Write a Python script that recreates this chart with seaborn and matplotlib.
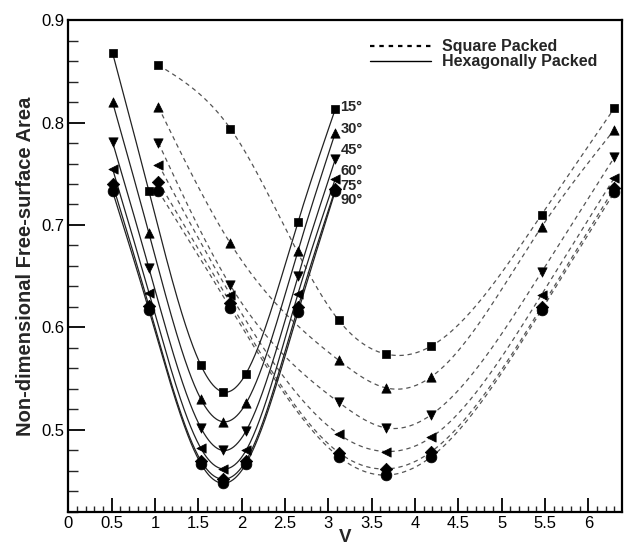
import numpy as np
import pandas as pd
import matplotlib
matplotlib.use("Agg")
import matplotlib.pyplot as plt
from matplotlib.ticker import MultipleLocator
from matplotlib.lines import Line2D
import seaborn as sns

angles = ["15°", "30°", "45°", "60°", "75°", "90°"]
markers = ["s", "^", "v", "<", "D", "o"]

# Hexagonally packed (solid)
hex_v = [0.51, 0.93, 1.53, 1.79, 2.05, 2.65, 3.08]
hex_15 = [0.868, 0.733, 0.563, 0.537, 0.555, 0.703, 0.813]
hex_30 = [0.820, 0.692, 0.530, 0.508, 0.526, 0.675, 0.790]
hex_45 = [0.781, 0.658, 0.502, 0.480, 0.499, 0.650, 0.764]
hex_60 = [0.755, 0.634, 0.482, 0.462, 0.480, 0.633, 0.745]
hex_75 = [0.740, 0.621, 0.470, 0.452, 0.470, 0.620, 0.735]
hex_90 = [0.733, 0.617, 0.467, 0.448, 0.467, 0.615, 0.733]

# Square packed (dashed)
sq_v = [1.04, 1.87, 3.12, 3.67, 4.19, 5.46, 6.30]
sq_15 = [0.856, 0.794, 0.607, 0.574, 0.582, 0.710, 0.814]
sq_30 = [0.815, 0.682, 0.568, 0.541, 0.552, 0.698, 0.793]
sq_45 = [0.780, 0.641, 0.527, 0.502, 0.515, 0.654, 0.766]
sq_60 = [0.759, 0.632, 0.496, 0.479, 0.493, 0.632, 0.746]
sq_75 = [0.742, 0.624, 0.478, 0.462, 0.479, 0.620, 0.736]
sq_90 = [0.733, 0.619, 0.474, 0.456, 0.474, 0.617, 0.732]

hex_series = [hex_15, hex_30, hex_45, hex_60, hex_75, hex_90]
sq_series = [sq_15, sq_30, sq_45, sq_60, sq_75, sq_90]


def natural_spline(x, y, n=300):
    x = np.asarray(x, float)
    y = np.asarray(y, float)
    k = len(x)
    h = np.diff(x)
    A = np.zeros((k, k))
    b = np.zeros(k)
    A[0, 0] = 1
    A[-1, -1] = 1
    for i in range(1, k - 1):
        A[i, i - 1] = h[i - 1]
        A[i, i] = 2 * (h[i - 1] + h[i])
        A[i, i + 1] = h[i]
        b[i] = 6 * ((y[i + 1] - y[i]) / h[i] - (y[i] - y[i - 1]) / h[i - 1])
    M = np.linalg.solve(A, b)
    xs = np.linspace(x[0], x[-1], n)
    idx = np.clip(np.searchsorted(x, xs) - 1, 0, k - 2)
    x0, x1 = x[idx], x[idx + 1]
    hh = x1 - x0
    ys = (M[idx] * (x1 - xs) ** 3 / (6 * hh) + M[idx + 1] * (xs - x0) ** 3 / (6 * hh)
          + (y[idx] / hh - M[idx] * hh / 6) * (x1 - xs)
          + (y[idx + 1] / hh - M[idx + 1] * hh / 6) * (xs - x0))
    return xs, ys


sns.set_style("ticks")
plt.rcParams["font.family"] = ["Liberation Sans", "DejaVu Sans"]

fig = plt.figure(figsize=(6.24, 5.48), dpi=100)
ax = fig.add_axes([0.1095, 0.0657, 0.8868, 0.8978])

for ys in sq_series:
    xs, yy = natural_spline(sq_v, ys)
    sns.lineplot(x=xs, y=yy, ax=ax, color="#555555", lw=0.9,
                 linestyle=(0, (3.5, 3)), sort=False, estimator=None)
for ys in hex_series:
    xs, yy = natural_spline(hex_v, ys)
    sns.lineplot(x=xs, y=yy, ax=ax, color="#222222", lw=0.9,
                 sort=False, estimator=None)

rows = []
for a, ys in zip(angles, hex_series):
    for v, y in zip(hex_v, ys):
        rows.append((v, y, a))
for a, ys in zip(angles, sq_series):
    for v, y in zip(sq_v, ys):
        rows.append((v, y, a))
df = pd.DataFrame(rows, columns=["V", "A", "angle"])
sizes = {"15°": 38, "30°": 45, "45°": 45, "60°": 45, "75°": 40, "90°": 60}
for a, m in zip(angles, markers):
    sub = df[df["angle"] == a]
    sns.scatterplot(data=sub, x="V", y="A", marker=m, s=sizes[a], color="black",
                    edgecolor="black", linewidth=0.5, ax=ax, legend=False, zorder=5)

label_y = [0.815, 0.794, 0.773, 0.753, 0.738, 0.724]
for a, y in zip(angles, label_y):
    ax.text(3.14, y, a, fontsize=10.5, fontweight="bold", va="center", ha="left")

ax.set_xlim(0, 6.385)
ax.set_ylim(0.42, 0.9)
ax.xaxis.set_minor_locator(MultipleLocator(0.1))
ax.yaxis.set_minor_locator(MultipleLocator(0.02))
ax.set_xticks(np.arange(0, 6.01, 0.5))
ax.set_xticklabels(["0", "0.5", "1", "1.5", "2", "2.5", "3", "3.5", "4", "4.5",
                    "5", "5.5", "6"])
ax.set_yticks([0.5, 0.6, 0.7, 0.8, 0.9])
ax.set_yticklabels(["0.5", "0.6", "0.7", "0.8", "0.9"])
ax.tick_params(axis="both", which="major", direction="in", length=10, width=1.3,
               labelsize=12, pad=3, colors="black")
ax.tick_params(axis="both", which="minor", direction="in", length=4.5, width=1.0)
ax.tick_params(axis="y", which="major", length=12)
ax.tick_params(axis="y", which="minor", length=7)
for s in ax.spines.values():
    s.set_linewidth(1.6)
    s.set_color("black")

ax.set_xlabel("V", fontsize=13.5, fontweight="bold", labelpad=-1.5)
ax.set_ylabel("Non-dimensional Free-surface Area", fontsize=14.5, fontweight="bold",
              labelpad=4)

handles = [Line2D([], [], color="black", lw=1.6, linestyle=(0, (2, 2.2))),
           Line2D([], [], color="black", lw=1.0)]
leg = ax.legend(handles, ["Square Packed", "Hexagonally Packed"], loc="upper right",
                bbox_to_anchor=(0.982, 0.99), frameon=False, handlelength=3.8,
                handletextpad=0.7, labelspacing=0.0,
                prop={"weight": "bold", "size": 11.5})

fig.savefig("out.png", dpi=100)
